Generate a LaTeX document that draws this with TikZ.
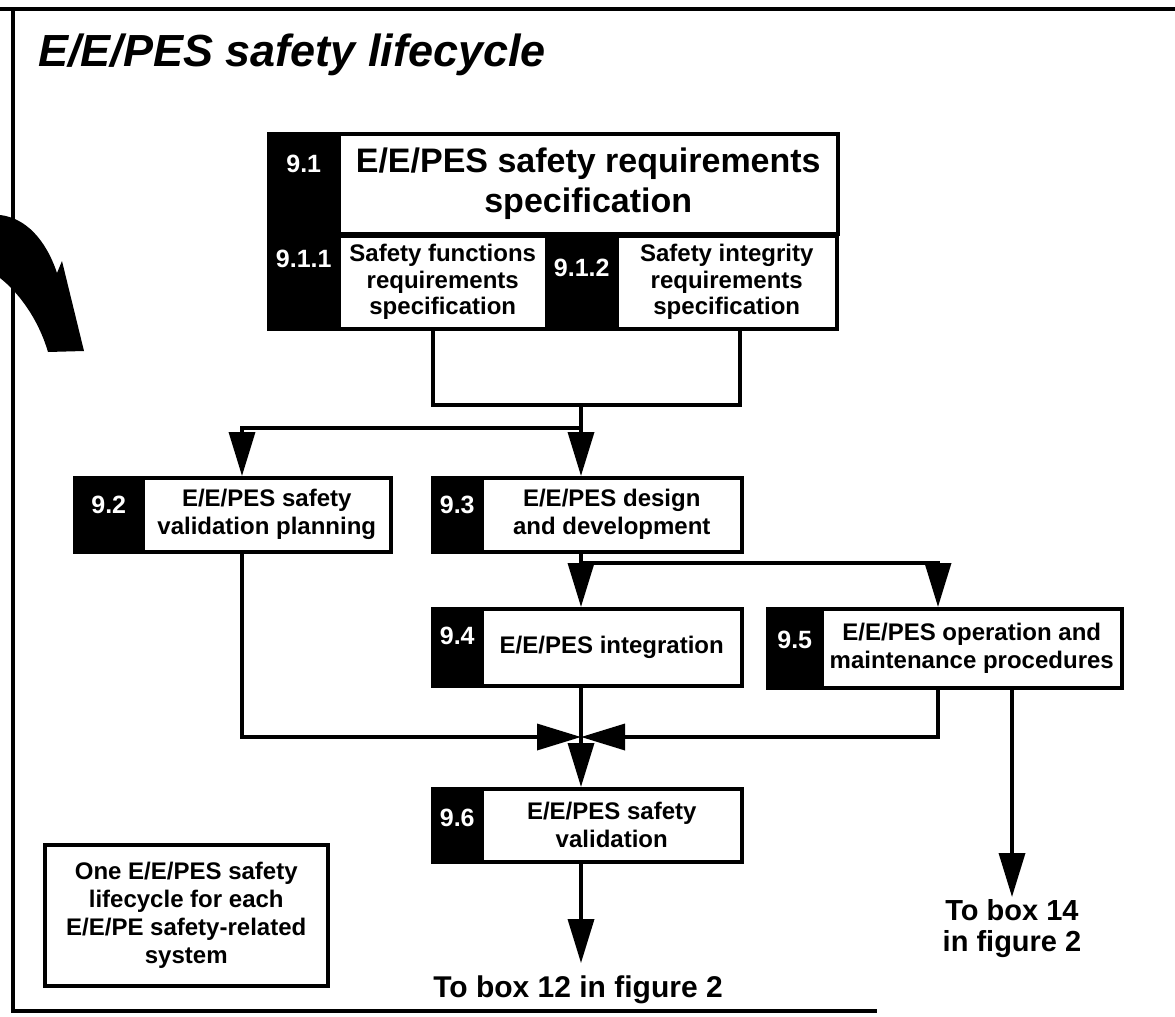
\documentclass[tikz,border=0pt]{standalone}
\usepackage{fontspec}
\setmainfont{Liberation Sans}
\usetikzlibrary{arrows.meta}
\newcommand\boxfont{\fontsize{24}{28}\selectfont\bfseries}
\newcommand\smallboxfont{\fontsize{24}{26.5}\selectfont\bfseries}
\newcommand\numfont{\fontsize{25}{27}\selectfont\bfseries}
\begin{document}
\begin{tikzpicture}[x=1pt,y=-1pt,
  darkpart/.style={draw=black, fill=black, line width=3.5pt, anchor=north west, inner sep=0pt},
  whitepart/.style={draw=black, fill=white, line width=3.5pt, anchor=north west, inner sep=0pt, align=center, font=\boxfont},
  numtxt/.style={text=white, font=\numfont, inner sep=0pt},
  conn/.style={line width=3.5pt},
  arr/.style={conn, -{Triangle[length=44pt,width=26pt]}},
  outtext/.style={font=\fontsize{29}{31}\selectfont\bfseries, align=center, inner sep=2pt}
]
\useasboundingbox (0,0) rectangle (1175,1017);
% frame
\draw[line width=3.5pt] (0,9) -- (1175,9);
\draw[line width=3.5pt] (13,9) -- (13,1011) -- (877,1011);
% curved arrow at the left edge
\fill (0,215) .. controls (26,218) and (46,240) .. (57,273) -- (62,261) -- (84,351) -- (48,352) .. controls (38,318) and (18,292) .. (0,278) -- cycle;
% title
\node[anchor=base west, font=\fontsize{45}{50}\selectfont\bfseries\itshape, inner sep=0pt] (title) at (38,66) {E/E/PES safety lifecycle};
% 9.1
\node[darkpart, minimum width=70, minimum height=100] (b91d) at (267,132) {};
\node[whitepart, minimum width=499, minimum height=100, font=\fontsize{34}{40}\selectfont\bfseries] (b91w) at (337,132) {E/E/PES safety requirements\\specification};
\node[numtxt] (b91n) at ([yshift=-32pt]b91d.north) {9.1};
% 9.1.1
\node[darkpart, minimum width=70, minimum height=93] (b911d) at (267,234) {};
\node[whitepart, minimum width=208, minimum height=93, font=\smallboxfont] (b911w) at (337,234) {Safety functions\\requirements\\specification};
\node[numtxt] (b911n) at ([yshift=-25pt]b911d.north) {9.1.1};
% 9.1.2
\node[darkpart, minimum width=70, minimum height=93] (b912d) at (545,234) {};
\node[whitepart, minimum width=220, minimum height=93, font=\smallboxfont] (b912w) at (615,234) {Safety integrity\\requirements\\specification};
\node[numtxt] (b912n) at ([yshift=-34pt]b912d.north) {9.1.2};
% 9.2
\node[darkpart, minimum width=68, minimum height=74] (b92d) at (73,476) {};
\node[whitepart, minimum width=248, minimum height=74] (b92w) at (141,476) {E/E/PES safety\\validation planning};
\node[numtxt] (b92n) at ([yshift=-29pt]b92d.north) {9.2};
% 9.3
\node[darkpart, minimum width=49, minimum height=74] (b93d) at (431,476) {};
\node[whitepart, minimum width=260, minimum height=74] (b93w) at (480,476) {E/E/PES design\\and development};
\node[numtxt] (b93n) at ([yshift=-29pt]b93d.north) {9.3};
% 9.4
\node[darkpart, minimum width=49, minimum height=77] (b94d) at (431,607) {};
\node[whitepart, minimum width=260, minimum height=77] (b94w) at (480,607) {E/E/PES integration};
\node[numtxt] (b94n) at ([yshift=-29pt]b94d.north) {9.4};
% 9.5
\node[darkpart, minimum width=54, minimum height=79] (b95d) at (766,607) {};
\node[whitepart, minimum width=300, minimum height=79] (b95w) at (820,607) {E/E/PES operation and\\maintenance procedures};
\node[numtxt] (b95n) at ([yshift=-33pt]b95d.north) {9.5};
% 9.6
\node[darkpart, minimum width=49, minimum height=73] (b96d) at (431,787) {};
\node[whitepart, minimum width=260, minimum height=73] (b96w) at (480,787) {E/E/PES safety\\validation};
\node[numtxt] (b96n) at ([yshift=-31pt]b96d.north) {9.6};
% note
\node[whitepart, minimum width=283, minimum height=141] (note) at (43,843) {One E/E/PES safety\\lifecycle for each\\E/E/PE safety-related\\system};
% outputs
\node[outtext, font=\fontsize{30}{34}\selectfont\bfseries, anchor=base] (to12) at (578,997) {To box 12 in figure 2};
\node[outtext, anchor=north] (to14) at (1012,897) {To box 14\\in figure 2};
% junction coordinates
\coordinate (j1) at (433,405);
\coordinate (j2) at (740,405);
\coordinate (j3) at (581,405);
\coordinate (j4) at (581,428);
\coordinate (j5) at (242,428);
\coordinate (k1) at (581,563);
\coordinate (k2) at (938,563);
\coordinate (m) at (581,737);
\coordinate (m1) at (242,737);
\coordinate (m2) at (938,737);
% connectors
\draw[conn] (b911w.south -| j1) -- (j1) -- (j2) -- (b912w.south -| j2);
\draw[conn] (j3) -- (j4);
\draw[arr] (j4) -- (j5) -- (b92w.north -| j5);
\draw[arr] (j4) -- (b93w.north -| j4);
\draw[conn] (b93w.south -| k1) -- (k1);
\draw[arr] (k1) -- (b94w.north -| k1);
\draw[arr] (k1) -- (k2) -- (b95w.north -| k2);
\draw[arr] (b92w.south -| m1) -- (m1) -- (m);
\draw[arr] (b95w.south -| m2) -- (m2) -- (m);
\draw[conn] (b94w.south -| m) -- (m);
\draw[arr] (m) -- (b96w.north -| m);
\draw[arr] (b96w.south -| m) -- ([yshift=10pt]to12.north -| m);
\draw[arr] (b95w.south -| to14) -- (to14.north);
\end{tikzpicture}
\end{document}
